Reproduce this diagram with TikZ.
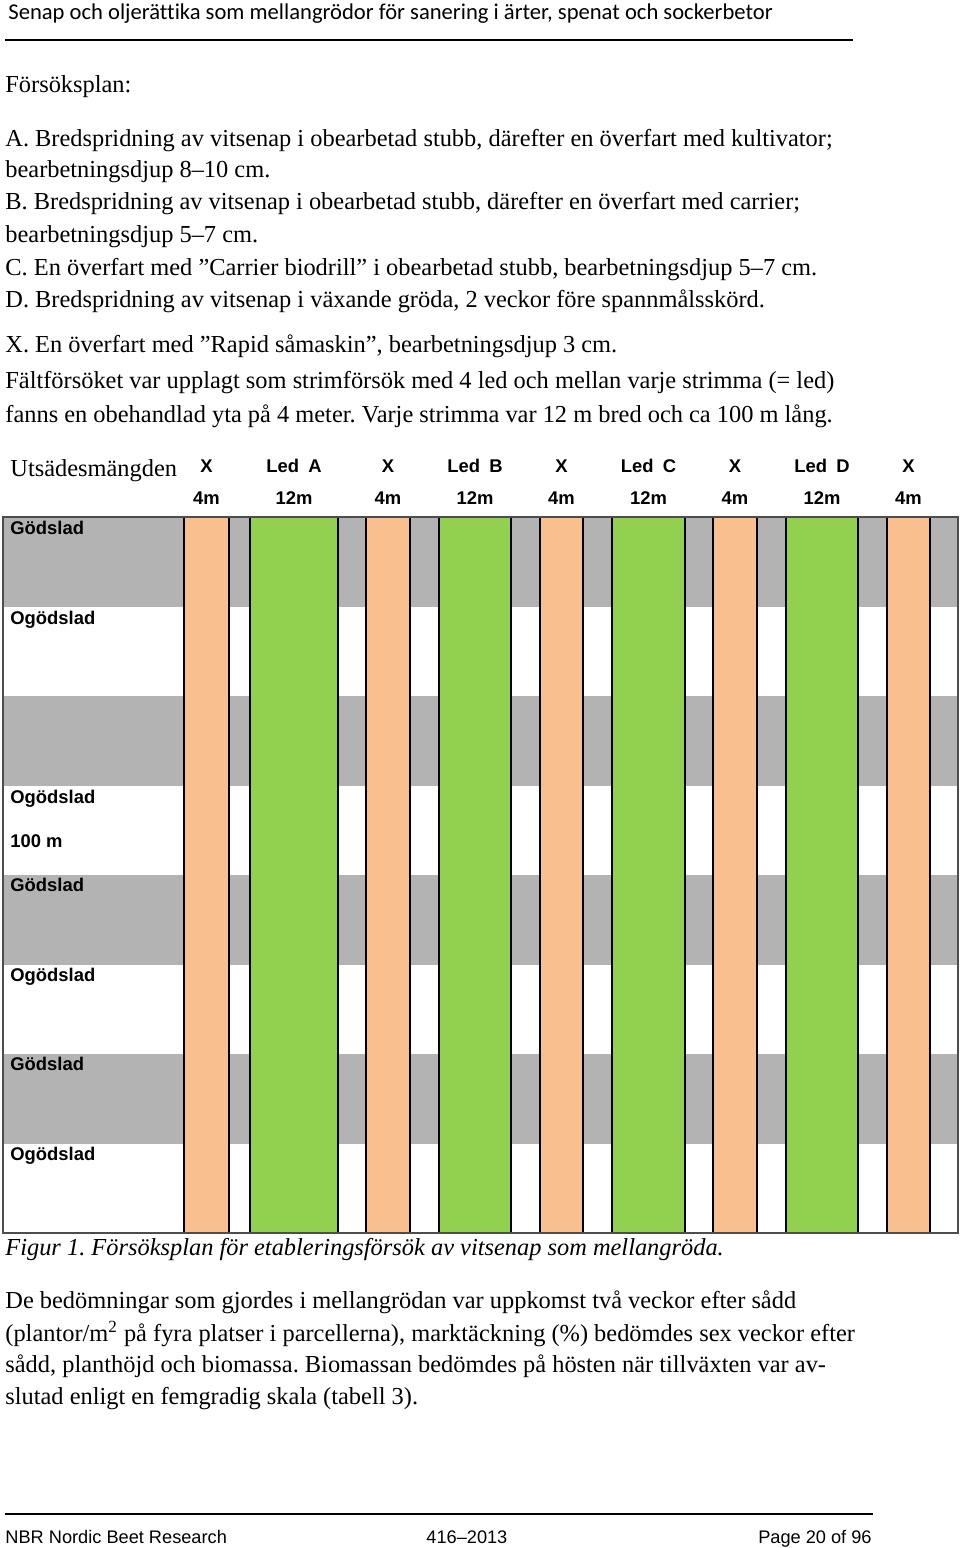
\documentclass[tikz,border=0pt]{standalone}
\usepackage{fontspec}
\setmainfont{Liberation Serif}
\newfontfamily\calibrifont[Ligatures=NoCommon]{Carlito}
\newfontfamily\arialfont{Liberation Sans}
\usepackage{tikz}
\usetikzlibrary{positioning}
\definecolor{plotgray}{HTML}{B3B3B3}
\definecolor{xorange}{HTML}{FABF8F}
\definecolor{ledgreen}{HTML}{92D050}
\definecolor{framegray}{HTML}{4D4D4D}
\frenchspacing

\begin{document}
\begin{tikzpicture}[x=0.5pt, y=-0.5pt,
    bodytext/.style={anchor=base west, inner sep=0pt, font=\fontsize{12.2}{14}\selectfont},
    rowlabel/.style={anchor=base west, inner sep=0pt, font=\arialfont\bfseries\fontsize{9.2}{11}\selectfont},
    headlabel/.style={anchor=base, inner sep=0pt, font=\arialfont\bfseries\fontsize{9.2}{11}\selectfont},
    foottext/.style={inner sep=0pt, font=\arialfont\fontsize{9.1}{11}\selectfont},
    stripe/.style={draw=black, line width=0.9pt}]
    \useasboundingbox (0,0) rectangle (960,1548);

    % Running header
    \node[anchor=base west, inner sep=0pt, font=\calibrifont\fontsize{11.3}{13}\selectfont] (runhead) at (8,19) {Senap och oljerättika som mellangrödor för sanering i ärter, spenat och sockerbetor};
    \draw[line width=1pt] (5,40) -- (853,40);

    % Trial plan text
    \node[bodytext] (plan) at (5,92) {Försöksplan:};
    \node[bodytext] (treata) at (5,146) {A. Bredspridning av vitsenap i obearbetad stubb, därefter en överfart med kultivator;};
    \node[bodytext] (treata2) at (5,177) {bearbetningsdjup 8–10 cm.};
    \node[bodytext] (treatb) at (5,209) {B. Bredspridning av vitsenap i obearbetad stubb, därefter en överfart med carrier;};
    \node[bodytext] (treatb2) at (5,242) {bearbetningsdjup 5–7 cm.};
    \node[bodytext] (treatc) at (5,275) {C. En överfart med ”Carrier biodrill” i obearbetad stubb, bearbetningsdjup 5–7 cm.};
    \node[bodytext] (treatd) at (5,307) {D. Bredspridning av vitsenap i växande gröda, 2 veckor före spannmålsskörd.};
    \node[bodytext] (treatx) at (5,352) {X. En överfart med ”Rapid såmaskin”, bearbetningsdjup 3 cm.};
    \node[bodytext] (layout) at (5,388) {Fältförsöket var upplagt som strimförsök med 4 led och mellan varje strimma (= led)};
    \node[bodytext] (layout2) at (5,422) {fanns en obehandlad yta på 4 meter. Varje strimma var 12 m bred och ca 100 m lång.};

    % Fertilised rows in gray
    \foreach \r in {0,2,4,6}
        \fill[plotgray] (3,{517+89.5*\r}) rectangle (958,{517+89.5*(\r+1)});

    % Strips with header labels
    \foreach \xa/\xb/\col/\name/\lab/\wid in {184/229/xorange/xa/X/4m, 250/338/ledgreen/leda/Led\hspace{2pt} A/12m,
        366/410/xorange/xb/X/4m, 439/511/ledgreen/ledb/Led\hspace{2pt} B/12m, 540/583/xorange/xc/X/4m,
        612/685/ledgreen/ledc/Led\hspace{2pt} C/12m, 713/757/xorange/xd/X/4m, 786/858/ledgreen/ledd/Led\hspace{2pt} D/12m,
        887/930/xorange/xe/X/4m} {
        \draw[stripe, fill=\col] (\xa,517) rectangle (\xb,1233);
        \node[headlabel] (\name-top) at ({(\xa+\xb)/2},472) {\lab};
        \node[headlabel] (\name-wid) at ({(\xa+\xb)/2},504) {\wid};
    }
    \draw[framegray, line width=0.6pt] (3,517) rectangle (958,1233);

    % Row labels
    \node[anchor=base west, inner sep=0pt, font=\fontsize{12.2}{14}\selectfont] (seedrate) at (10,476) {Utsädesmängden};
    \node[rowlabel] (rowa) at (10,534) {Gödslad};
    \node[rowlabel] (rowb) at (10,624) {Ogödslad};
    \node[rowlabel] (rowd) at (10,803) {Ogödslad};
    \node[rowlabel] (length) at (10,847) {100 m};
    \node[rowlabel] (rowe) at (10,891) {Gödslad};
    \node[rowlabel] (rowf) at (10,981) {Ogödslad};
    \node[rowlabel] (rowg) at (10,1070) {Gödslad};
    \node[rowlabel] (rowh) at (10,1160) {Ogödslad};

    % Caption and assessment text
    \node[bodytext, font=\itshape\fontsize{12.2}{14}\selectfont] (caption) at (5,1255) {Figur 1. Försöksplan för etableringsförsök av vitsenap som mellangröda.};
    \node[bodytext] (assess) at (5,1308) {De bedömningar som gjordes i mellangrödan var uppkomst två veckor efter sådd};
    \node[bodytext] (assess2) at (5,1341) {(plantor/m\textsuperscript{2} på fyra platser i parcellerna), marktäckning (\%) bedömdes sex veckor efter};
    \node[bodytext] (assess3) at (5,1372) {sådd, planthöjd och biomassa. Biomassan bedömdes på hösten när tillväxten var av-};
    \node[bodytext] (assess4) at (5,1404) {slutad enligt en femgradig skala (tabell 3).};

    % Footer
    \draw[line width=1pt] (5,1514) -- (873,1514);
    \node[foottext, anchor=base west] (org) at (5,1543) {NBR Nordic Beet Research};
    \node[foottext, anchor=base west] (report) at (426,1543) {416–2013};
    \node[foottext, anchor=base east] (pageno) at (872,1543) {Page 20 of 96};
\end{tikzpicture}
\end{document}
